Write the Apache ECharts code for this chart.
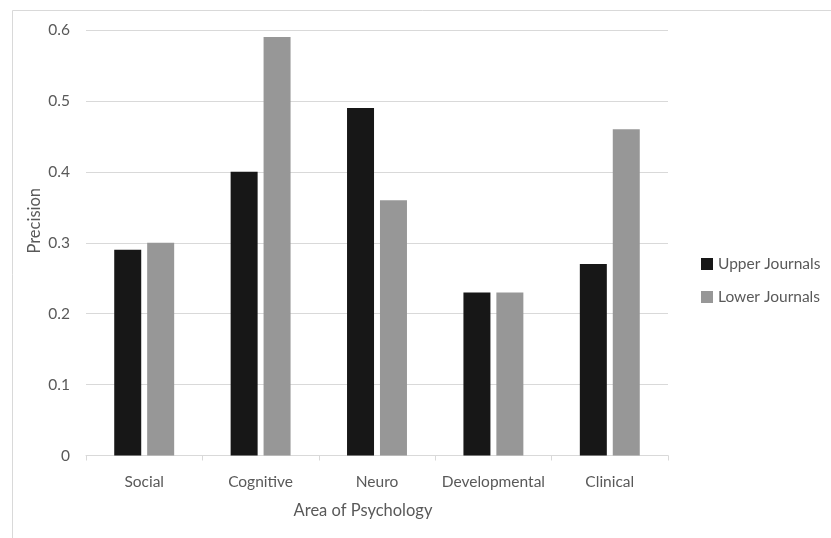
<!DOCTYPE html>
<html>
<head>
<meta charset="utf-8">
<script src="https://cdn.jsdelivr.net/npm/echarts@6/dist/echarts.min.js"></script>
<style>
  html, body { margin: 0; padding: 0; background: #fff; }
  #chart { width: 831px; height: 538px; }
</style>
</head>
<body>
<div id="chart"></div>
<script>
// Precision by area of psychology, split by journal tier
const categories = ['Social', 'Cognitive', 'Neuro', 'Developmental', 'Clinical'];
const upperJournals = [0.29, 0.40, 0.49, 0.23, 0.27];
const lowerJournals = [0.30, 0.59, 0.36, 0.23, 0.46];
const yTicks = { min: 0, max: 0.6, interval: 0.1 };

const FONT = 'Lato';
const TEXT = '#595959';
const LINE = '#d9d9d9';

const chart = echarts.init(document.getElementById('chart'), null, { renderer: 'canvas' });

chart.setOption({
  animation: false,
  backgroundColor: '#ffffff',
  textStyle: { fontFamily: FONT },
  graphic: [{
    type: 'rect',
    shape: { x: 12.5, y: 10.5, width: 840, height: 560 },
    style: { fill: null, stroke: LINE, lineWidth: 1 },
    silent: true
  }],
  grid: { left: 86, right: 163, top: 30, bottom: 82.5 },
  legend: {
    orient: 'vertical',
    left: 701,
    top: 256,
    padding: 0,
    itemWidth: 12,
    itemHeight: 12,
    itemGap: 17,
    icon: 'rect',
    textStyle: { color: TEXT, fontFamily: FONT, fontSize: 15.5 },
    data: ['Upper Journals', 'Lower Journals']
  },
  xAxis: {
    type: 'category',
    data: categories,
    name: 'Area of Psychology',
    nameLocation: 'middle',
    nameGap: 47,
    nameMoveOverlap: false,
    nameTextStyle: { color: TEXT, fontFamily: FONT, fontSize: 16.5, padding: [0, 28, 0, 0] },
    axisLine: { lineStyle: { color: LINE, width: 1 } },
    axisTick: { show: true, length: 5, lineStyle: { color: LINE } },
    axisLabel: { color: TEXT, fontFamily: FONT, fontSize: 15.5, margin: 18, interval: 0 }
  },
  yAxis: {
    type: 'value',
    min: yTicks.min,
    max: yTicks.max,
    interval: yTicks.interval,
    name: 'Precision',
    nameLocation: 'middle',
    nameGap: 43,
    nameMoveOverlap: false,
    nameTextStyle: { color: TEXT, fontFamily: FONT, fontSize: 16.5, padding: [0, 0, 0, 44] },
    axisLine: { show: false },
    axisTick: { show: false },
    axisLabel: { color: TEXT, fontFamily: FONT, fontSize: 15.5, margin: 16 },
    splitLine: { lineStyle: { color: LINE, width: 1 } }
  },
  series: [
    {
      name: 'Upper Journals',
      type: 'bar',
      data: upperJournals,
      barWidth: 27,
      barGap: '22%',
      itemStyle: { color: '#171717' }
    },
    {
      name: 'Lower Journals',
      type: 'bar',
      data: lowerJournals,
      barWidth: 27,
      barGap: '22%',
      itemStyle: { color: '#979797' }
    }
  ]
});
</script>
</body>
</html>
